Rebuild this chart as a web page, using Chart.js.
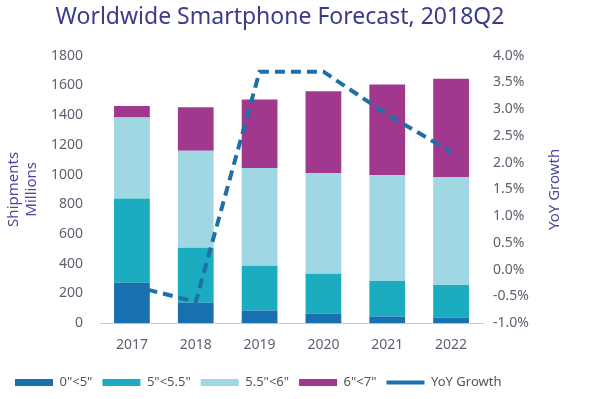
<!DOCTYPE html>
<html>
<head>
<meta charset="utf-8">
<script src="https://cdn.jsdelivr.net/npm/chart.js@4/dist/chart.umd.min.js"></script>
<style>
  html, body { margin: 0; padding: 0; background: #fff; }
  #wrap { width: 593px; height: 399px; }
</style>
</head>
<body>
<div id="wrap"><canvas id="smartChart"></canvas></div>
<script>
// DATA
const years = ['2017', '2018', '2019', '2020', '2021', '2022'];
const under5 = [272, 138, 85, 63, 45, 36];
const from5to55 = [567, 370, 301, 269, 239, 221];
const from55to6 = [544, 652, 658, 678, 711, 726];
const from6to7 = [78, 292, 461, 551, 611, 661];
const yoyGrowth = [-0.3, -0.6, 3.7, 3.7, 2.9, 2.2];
const seriesNames = ['0"<5"', '5"<5.5"', '5.5"<6"', '6"<7"', 'YoY Growth'];
// DATA

const fontFam = '"Noto Sans", "Open Sans", sans-serif';
const barColors = ['#1870b0', '#1badbf', '#9fd8e2', '#a0388e'];
const lineColor = '#1f6fab';
const axisTitleColor = '#4a4a9c';

const barSet = (label, values, color) => ({
  type: 'bar',
  label: label,
  data: values,
  backgroundColor: color,
  borderWidth: 0,
  stack: 'units',
  yAxisID: 'y',
  order: 1,
  barPercentage: 0.56,
  categoryPercentage: 1
});

// right axis title reads bottom-to-top in the original, chart.js turns it the other way
const rightTitle = {
  id: 'rightTitle',
  afterLayout(chart) {
    // original title sits a bit left of the page centre
    chart.titleBlock.left = 0;
    chart.titleBlock.right = 560;
  },
  afterDraw(chart) {
    const ctx = chart.ctx;
    const area = chart.chartArea;
    ctx.save();
    ctx.translate(555, (area.top + area.bottom) / 2);
    ctx.rotate(-Math.PI / 2);
    ctx.fillStyle = axisTitleColor;
    ctx.font = '15px ' + fontFam;
    ctx.textAlign = 'center';
    ctx.textBaseline = 'middle';
    ctx.fillText(seriesNames[4], 0, 0);
    ctx.restore();
  }
};

const config = {
  data: {
    labels: years,
    datasets: [
      barSet(seriesNames[0], under5, barColors[0]),
      barSet(seriesNames[1], from5to55, barColors[1]),
      barSet(seriesNames[2], from55to6, barColors[2]),
      barSet(seriesNames[3], from6to7, barColors[3]),
      {
        type: 'line',
        label: seriesNames[4],
        data: yoyGrowth,
        borderColor: lineColor,
        backgroundColor: lineColor,
        borderWidth: 4,
        borderDash: [10, 6],
        pointRadius: 0,
        tension: 0,
        yAxisID: 'y1',
        order: 0
      }
    ]
  },
  options: {
    responsive: true,
    maintainAspectRatio: false,
    animation: false,
    layout: { padding: { top: 4, left: 5, right: 0, bottom: 0 } },
    plugins: {
      title: {
        display: true,
        text: 'Worldwide Smartphone Forecast, 2018Q2',
        color: '#3b3b8e',
        font: { family: fontFam, size: 23, weight: 'normal' },
        padding: { top: 0, bottom: 24 }
      },
      legend: {
        position: 'bottom',
        align: 'start',
        labels: {
          usePointStyle: true,
          pointStyleWidth: 38,
          boxHeight: 7,
          padding: 10,
          color: '#555',
          font: { family: fontFam, size: 13 },
          sort: (a, b) => a.datasetIndex - b.datasetIndex,
          generateLabels: (chart) =>
            Chart.defaults.plugins.legend.labels.generateLabels(chart).map((item) => ({
              ...item,
              pointStyle: item.datasetIndex === 4 ? 'line' : 'rect'
            }))
        }
      },
      tooltip: { enabled: false }
    },
    scales: {
      x: {
        stacked: true,
        grid: { display: false, drawTicks: false },
        border: { display: true, color: '#c8c8c8' },
        ticks: { color: '#606070', font: { family: fontFam, size: 14 }, padding: 13 }
      },
      y: {
        stacked: true,
        position: 'left',
        min: 0,
        max: 1800,
        grid: { display: false, drawTicks: false },
        border: { display: false },
        ticks: {
          stepSize: 200,
          color: '#606070',
          font: { family: fontFam, size: 14 },
          padding: 17,
          callback: (v) => String(v)
        },
        title: {
          display: true,
          text: ['Shipments', 'Millions'],
          color: axisTitleColor,
          font: { family: fontFam, size: 15 },
          padding: 0
        },
        afterFit: (axis) => { axis.width = 95; }
      },
      y1: {
        position: 'right',
        min: -1,
        max: 4,
        grid: { display: false, drawTicks: false },
        border: { display: false },
        ticks: {
          stepSize: 0.5,
          color: '#606070',
          font: { family: fontFam, size: 14 },
          padding: 10,
          callback: (v) => v.toFixed(1) + '%'
        },
        afterFit: (axis) => { axis.width = 110; }
      }
    }
  },
  plugins: [rightTitle]
};

const smartChart = new Chart(document.getElementById('smartChart'), config);
</script>
</body>
</html>
